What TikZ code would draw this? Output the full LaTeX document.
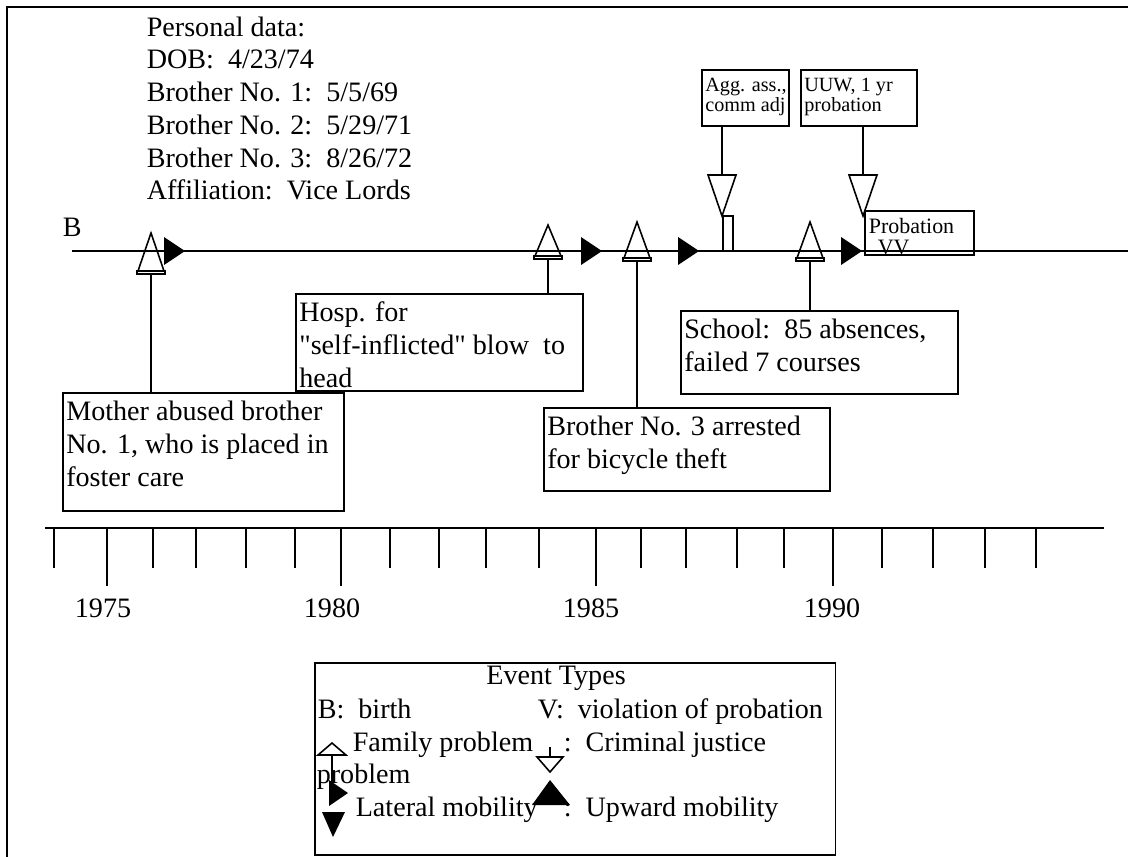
\documentclass[tikz,border=0pt]{standalone}
\usepackage{fontspec}
\setmainfont{Liberation Serif}[Ligatures=TeXOff]

\begin{document}
\begin{tikzpicture}[x=0.02cm,y=-0.02cm,line width=0.9pt,
    evbox/.style={draw,anchor=north west,inner sep=0pt},
    evtext/.style={anchor=north west,align=left,inner xsep=2pt,inner ysep=4.5pt,font=\fontsize{16}{18.8}\selectfont},
    smalltext/.style={anchor=north west,align=left,inner xsep=2pt,inner ysep=5pt,font=\fontsize{11.5}{11.2}\selectfont},
    lbl/.style={anchor=west,inner sep=0pt,text height=11pt,text depth=3.5pt,font=\fontsize{16}{18.8}\selectfont}]
    \useasboundingbox (0,0) rectangle (1128,856);

    % outer frame (runs off the page at right and bottom)
    \draw (7,7) rectangle (1160,900);

    % personal data
    \node[anchor=north west,inner sep=0pt,align=left,font=\fontsize{16}{18.6}\selectfont] (pers) at (146,16)
      {Personal data:\\DOB:\ \ 4/23/74\\Brother No. 1:\ \ 5/5/69\\Brother No. 2:\ \ 5/29/71\\Brother No. 3:\ \ 8/26/72\\Affiliation:\ \ Vice Lords};

    % life line
    \node[lbl] (birth) at (62,230) {B};
    \coordinate (tl0) at (72,251);
    \coordinate (tl1) at (1160,251);
    \draw (tl0) -- (tl1);

    % lateral mobility markers
    \foreach \x in {164,581,678,841}
      \fill (\x,237) -- (\x+21,251) -- (\x,265) -- cycle;

    % family problems (open triangles)
    \foreach \x/\ya/\yb/\nm in {151/233/271/a,548/225/256/b,637/222/258/c,810/222/258/d} {
      \draw (\x,\ya) -- (\x+13,\yb) -- (\x-13,\yb) -- cycle;
      \draw (\x-14,\yb) rectangle (\x+14,\yb+3);
      \coordinate (fam\nm) at (\x,\yb+3);
    }

    % event boxes
    \node[evbox,minimum width=5.74cm,minimum height=1.94cm] (hosp) at (295,293) {};
    \node[evtext] at (hosp.north west) {Hosp. for\\"self-inflicted" blow\ \ to\\head};
    \node[evbox,minimum width=5.62cm,minimum height=2.36cm] (mom) at (62,392) {};
    \node[evtext] at (mom.north west) {Mother abused brother\\No. 1, who is placed in\\foster care};
    \node[evbox,minimum width=5.72cm,minimum height=1.66cm] (bro) at (543,407) {};
    \node[evtext] at (bro.north west) {Brother No. 3 arrested\\for bicycle theft};
    \node[evbox,minimum width=5.54cm,minimum height=1.66cm] (school) at (680,310) {};
    \node[evtext] at (school.north west) {School:\ \ 85 absences,\\failed 7 courses};

    \draw (fama) -- (fama |- mom.north);
    \draw (famb) -- (famb |- hosp.north);
    \draw (famc) -- (famc |- bro.north);
    \draw (famd) -- (famd |- school.north);

    % criminal justice events
    \node[evbox,minimum width=1.74cm,minimum height=1.12cm] (agg) at (701,69) {};
    \node[smalltext] at (agg.north west) {Agg. ass.,\\comm adj};
    \node[evbox,minimum width=2.32cm,minimum height=1.12cm] (uuw) at (800,69) {};
    \node[smalltext] at (uuw.north west) {UUW, 1 yr\\probation};
    \coordinate (cja) at (722,175);
    \coordinate (cjb) at (863,175);
    \draw (agg.south -| cja) -- (cja);
    \draw (uuw.south -| cjb) -- (cjb);
    \draw (708,175) -- (736,175) -- (722,216) -- cycle;
    \draw (723,216) rectangle (733,251);
    \draw (849,175) -- (877,175) -- (863,216) -- cycle;

    \node[evbox,minimum width=2.18cm,minimum height=0.88cm] (prob) at (864,210) {};
    \node[anchor=west,inner sep=0pt,font=\fontsize{12.5}{14}\selectfont] at (868,226) {Probation};
    \node[anchor=west,inner sep=0pt,font=\fontsize{12.5}{14}\selectfont] at (877,247) {VV};

    % time axis
    \coordinate (ax0) at (45,528);
    \coordinate (ax1) at (1104,528);
    \draw (ax0) -- (ax1);
    \foreach \x in {54,153,196,246,295,390,439,486,539,641,686,737,784,882,933,985,1036}
      \draw (\x,528) -- (\x,568);
    \foreach \x/\lx/\yr in {107/103/1975,341/332/1980,596/591/1985,833/832/1990} {
      \draw (\x,528) -- (\x,586);
      \node[font=\fontsize{16}{18.8}\selectfont] at (\lx,608) {\yr};
    }

    % legend
    \node[evbox,minimum width=10.42cm,minimum height=3.84cm] (legend) at (314,662) {};
    \node[font=\fontsize{16}{18.8}\selectfont] at (556,678) {Event Types};
    \node[lbl] at (317,712) {B:\ \ birth};
    \node[lbl] at (537,712) {V:\ \ violation of probation};
    \node[lbl] at (352,745) {Family problem};
    \node[lbl] at (563,745) {:\ \ Criminal justice};
    \node[lbl] at (316,777) {problem};
    \node[lbl] at (355,810) {Lateral mobility};
    \node[lbl] at (563,810) {:\ \ Upward mobility};
    \draw (318,755) -- (332,743) -- (346,755) -- cycle;
    \draw (332,755) -- (332,790);
    \draw (550,747) -- (550,757);
    \draw (537,757) -- (563,757) -- (550,772) -- cycle;
    \fill (329,780) -- (348,793) -- (329,806) -- cycle;
    \fill (322,812) -- (345,812) -- (333,837) -- cycle;
    \fill (532,805) -- (550,780) -- (570,805) -- cycle;
\end{tikzpicture}
\end{document}
